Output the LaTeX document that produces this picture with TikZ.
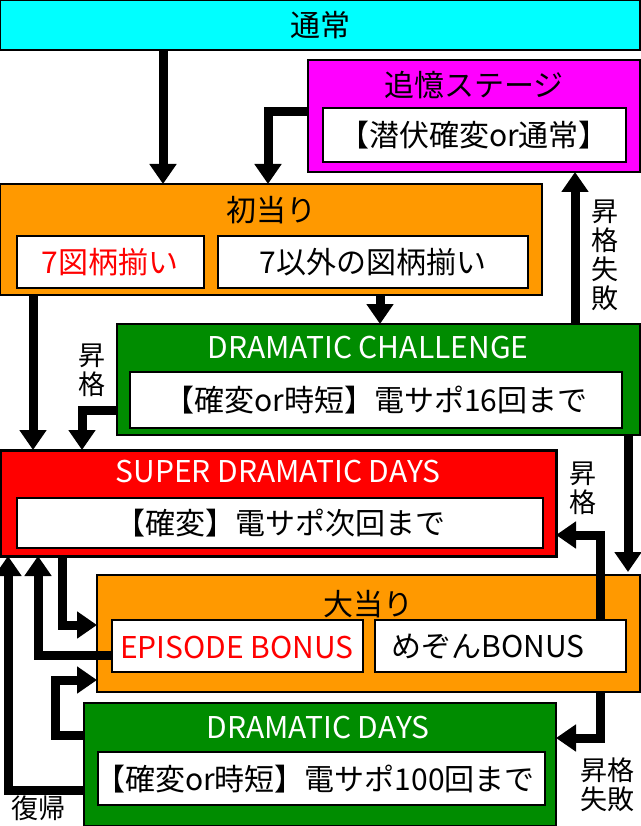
\documentclass[tikz,border=0pt]{standalone}
\usepackage{fontspec}
\newfontfamily\jp{Noto Sans CJK JP}
\usetikzlibrary{arrows.meta}
\definecolor{cy}{RGB}{0,255,255}
\definecolor{mg}{RGB}{255,0,255}
\definecolor{og}{RGB}{255,153,0}
\definecolor{gr}{RGB}{0,140,0}
\definecolor{rd}{RGB}{255,0,0}
\begin{document}
\begin{tikzpicture}[x=1pt,y=-1pt,
  box/.style={draw=black,line width=1.5pt},
  inbox/.style={draw=black,fill=white,line width=1.5pt},
  ttl/.style={font=\jp\fontsize{30}{32}\selectfont},
  txt/.style={font=\jp\fontsize{30}{32}\selectfont},
  arr/.style={line width=9pt,-{Triangle[width=26pt,length=20pt]},line join=miter},
  lbl/.style={font=\jp\fontsize{27}{29}\selectfont,align=center}]
\useasboundingbox (0,0) rectangle (640,826);
\fill[white] (0,0) rectangle (640,826);
% boxes
\draw[box,fill=cy] (0,0) rectangle (640,50);
\node[ttl] (ts) at (320,25) {通常};
\draw[box,fill=mg] (308,60) rectangle (640,172);
\node[ttl] at (474,85) {追憶ステージ};
\draw[inbox] (323,108) rectangle (626,162);
\node[txt] at (474,135) {【潜伏確変or通常】};
\draw[box,fill=og] (0,184) rectangle (542,295);
\node[ttl] at (271,210) {初当り};
\draw[inbox] (17,236) rectangle (204,288);
\node[txt,text=rd] at (110,262) {7図柄揃い};
\draw[inbox] (218,236) rectangle (528,288);
\node[txt] at (373,262) {7以外の図柄揃い};
\draw[box,fill=gr] (117,324) rectangle (640,435);
\node[ttl,text=white] at (368,348) {DRAMATIC CHALLENGE};
\draw[inbox] (130,372) rectangle (622,428);
\node[txt] at (376,400) {【確変or時短】電サポ16回まで};
\draw[line width=3pt,fill=rd] (0,450) rectangle (556,556);
\node[ttl,text=white] at (278,472) {SUPER DRAMATIC DAYS};
\draw[inbox] (17,498) rectangle (543,548);
\node[txt] at (280,523) {【確変】電サポ次回まで};
\draw[box,fill=og] (97,575) rectangle (640,692);
\node[ttl] at (368,604) {大当り};
\draw[inbox] (112,620) rectangle (363,672);
\node[txt,text=rd] at (237,647) {EPISODE BONUS};
\draw[inbox] (375,620) rectangle (626,672);
\node[txt] at (488,647) {めぞんBONUS};
\draw[box,fill=gr] (84,703) rectangle (556,826);
\node[ttl,text=white] at (318,727) {DRAMATIC DAYS};
\draw[inbox] (98,752) rectangle (545,805);
\node[txt] at (315,779) {【確変or時短】電サポ100回まで};
% arrows
\draw[arr] (163,50) -- (163,184);
\draw[arr] (308,112) -- (268,112) -- (268,184);
\draw[arr] (33,295) -- (33,450);
\draw[arr] (380,295) -- (380,324);
\draw[arr] (117,410) -- (82,410) -- (82,450);
\draw[arr] (575,324) -- (575,172);
\draw[arr] (628,435) -- (628,572);
\draw[arr] (600,620) -- (600,535) -- (556,535);
\draw[arr] (62,556) -- (62,625) -- (97,625);
\draw[arr] (112,655) -- (38,655) -- (38,556);
\draw[arr] (84,735) -- (55,735) -- (55,680) -- (97,680);
\draw[arr] (84,790) -- (8,790) -- (8,556);
\draw[arr] (600,692) -- (600,738) -- (556,738);
% labels
\node[lbl] at (92,370) {昇\\格};
\node[lbl] at (605,255) {昇\\格\\失\\敗};
\node[lbl] at (583,488) {昇\\格};
\node[lbl] at (607,785) {昇格\\失敗};
\node[lbl] at (38,808) {復帰};
\end{tikzpicture}
\end{document}
